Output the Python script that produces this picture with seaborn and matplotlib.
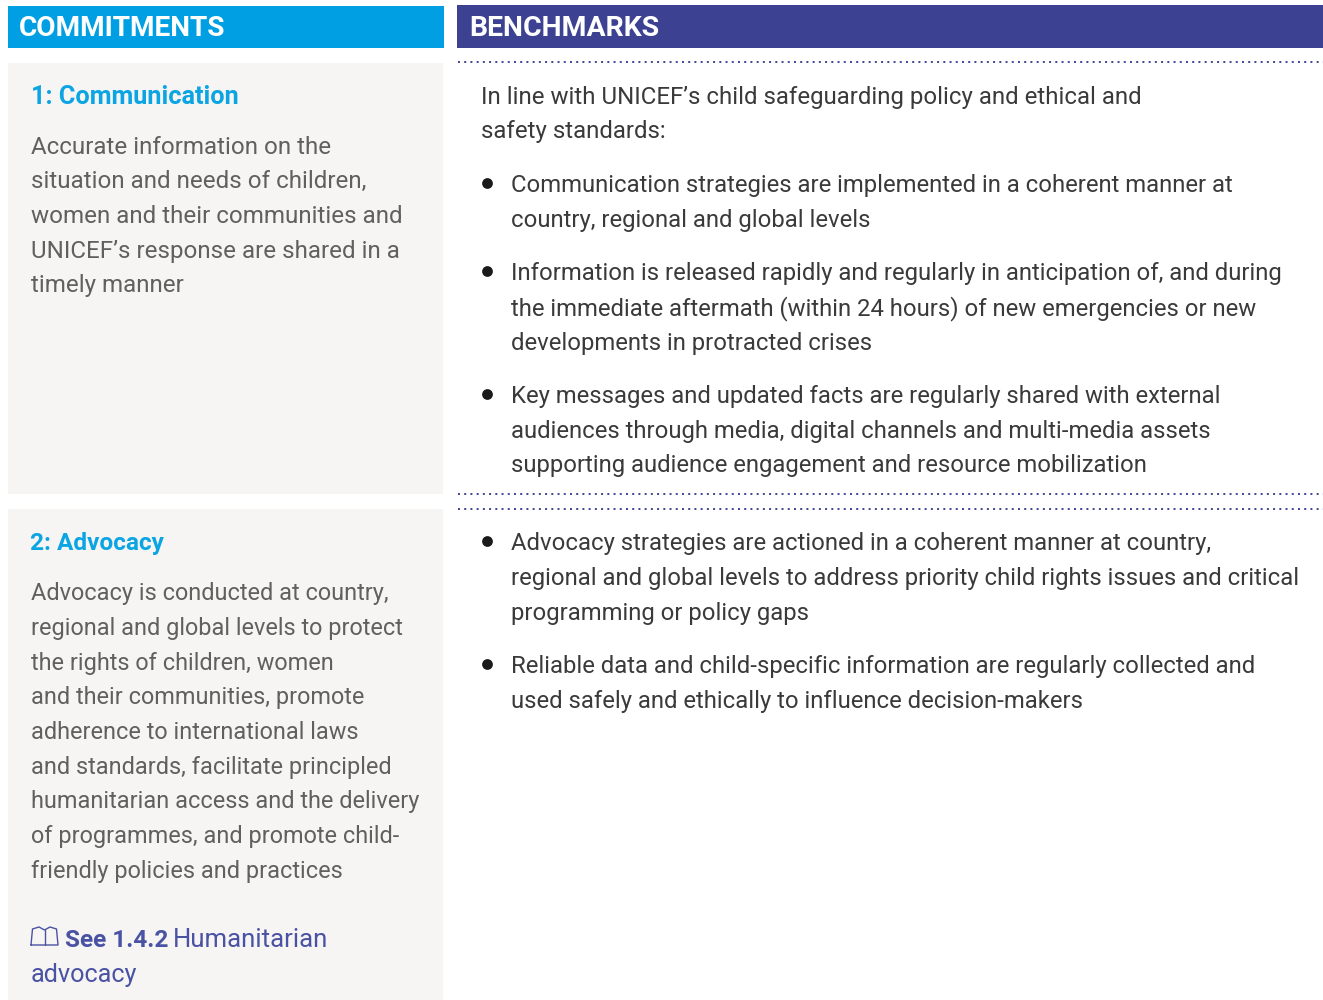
import matplotlib.pyplot as plt
from matplotlib.patches import Rectangle
import seaborn as sns

# headers
header_left = "COMMITMENTS"
header_right = "BENCHMARKS"

# left column
title_1 = "1: Communication"
body_1 = ["Accurate information on the", "situation and needs of children,",
          "women and their communities and", "UNICEF\u2019s response are shared in a",
          "timely manner"]
base_1 = [154, 188, 223, 258, 292]

title_2 = "2: Advocacy"
body_2 = ["Advocacy is conducted at country,", "regional and global levels to protect",
          "the rights of children, women", "and their communities, promote",
          "adherence to international laws", "and standards, facilitate principled",
          "humanitarian access and the delivery", "of programmes, and promote child-",
          "friendly policies and practices"]
base_2 = [600, 635, 670, 704, 739, 774, 808, 843, 878]

# right column
intro = ["In line with UNICEF\u2019s child safeguarding policy and ethical and", "safety standards:"]
intro_base = [104, 138]
bullets = ["Communication strategies are implemented in a coherent manner at",
           "country, regional and global levels",
           "Information is released rapidly and regularly in anticipation of, and during",
           "the immediate aftermath (within 24 hours) of new emergencies or new",
           "developments in protracted crises",
           "Key messages and updated facts are regularly shared with external",
           "audiences through media, digital channels and multi-media assets",
           "supporting audience engagement and resource mobilization",
           "Advocacy strategies are actioned in a coherent manner at country,",
           "regional and global levels to address priority child rights issues and critical",
           "programming or policy gaps",
           "Reliable data and child-specific information are regularly collected and",
           "used safely and ethically to influence decision-makers"]
bullet_base = [192, 227, 280, 315, 350, 403, 438, 472, 550, 585, 620, 673, 708]
bullet_dots = [183, 271, 394, 541, 664]

cyan = "#009FE3"
indigo = "#3C4291"
panel = "#F6F5F3"
link = "#4A52A3"

sns.set_theme(style="white")
plt.rcParams["font.family"] = ["Roboto", "DejaVu Sans"]

fig, ax = plt.subplots(figsize=(13.23, 10), dpi=100)
fig.subplots_adjust(0, 0, 1, 1)
ax.set_xlim(0, 1323)
ax.set_ylim(1000, 0)
ax.axis("off")

# boxes
ax.add_patch(Rectangle((8, 6), 436, 42, color=cyan, lw=0))
ax.add_patch(Rectangle((457, 5), 866, 43, color=indigo, lw=0))
ax.add_patch(Rectangle((8, 63), 435, 431, color=panel, lw=0))
ax.add_patch(Rectangle((8, 509), 435, 491, color=panel, lw=0))

# dotted rules
for y in [62, 494, 509]:
    sns.lineplot(x=[458, 1323], y=[y, y], ax=ax, color=indigo, lw=1.4,
                 linestyle=(0, (1, 2.2)), errorbar=None)

ax.text(19, 36, header_left, color="white", fontsize=20.2, fontweight="bold", va="baseline")
ax.text(469, 36, header_right, color="white", fontsize=20.4, fontweight="bold", va="baseline")

ax.text(31, 104, title_1, color="#0AA5E2", fontsize=18.2, fontweight="bold", va="baseline")
ax.text(30, 550, title_2, color="#0AA5E2", fontsize=17.6, fontweight="bold", va="baseline")

for s, y in zip(body_1, base_1):
    ax.text(31, y, s, color="#606060", fontsize=17.4, va="baseline")
for s, y in zip(body_2, base_2):
    ax.text(31, y, s, color="#606060", fontsize=16.9, va="baseline")

for s, y in zip(intro, intro_base):
    ax.text(481, y, s, color="#3A3A3A", fontsize=17.3, va="baseline")
for s, y in zip(bullets, bullet_base):
    ax.text(511, y, s, color="#3A3A3A", fontsize=17.2, va="baseline")
ax.scatter([487] * len(bullet_dots), bullet_dots, s=60, color="#1A1A1A", linewidths=0)

# book icon
ax.plot([31, 32.5, 39, 44.5, 50, 56.5, 58, 31], [945, 929, 927, 930, 927, 929, 945, 945], color=link, lw=1)
ax.plot([44.5, 44.5], [930, 945], color=link, lw=1)

ax.text(65, 947, "See 1.4.2", color=link, fontsize=17.6, fontweight="bold", va="baseline")
ax.text(173, 947, "Humanitarian", color=link, fontsize=18.5, va="baseline")
ax.text(31, 982, "advocacy", color=link, fontsize=18.2, va="baseline")

plt.savefig("out.png", dpi=100)
